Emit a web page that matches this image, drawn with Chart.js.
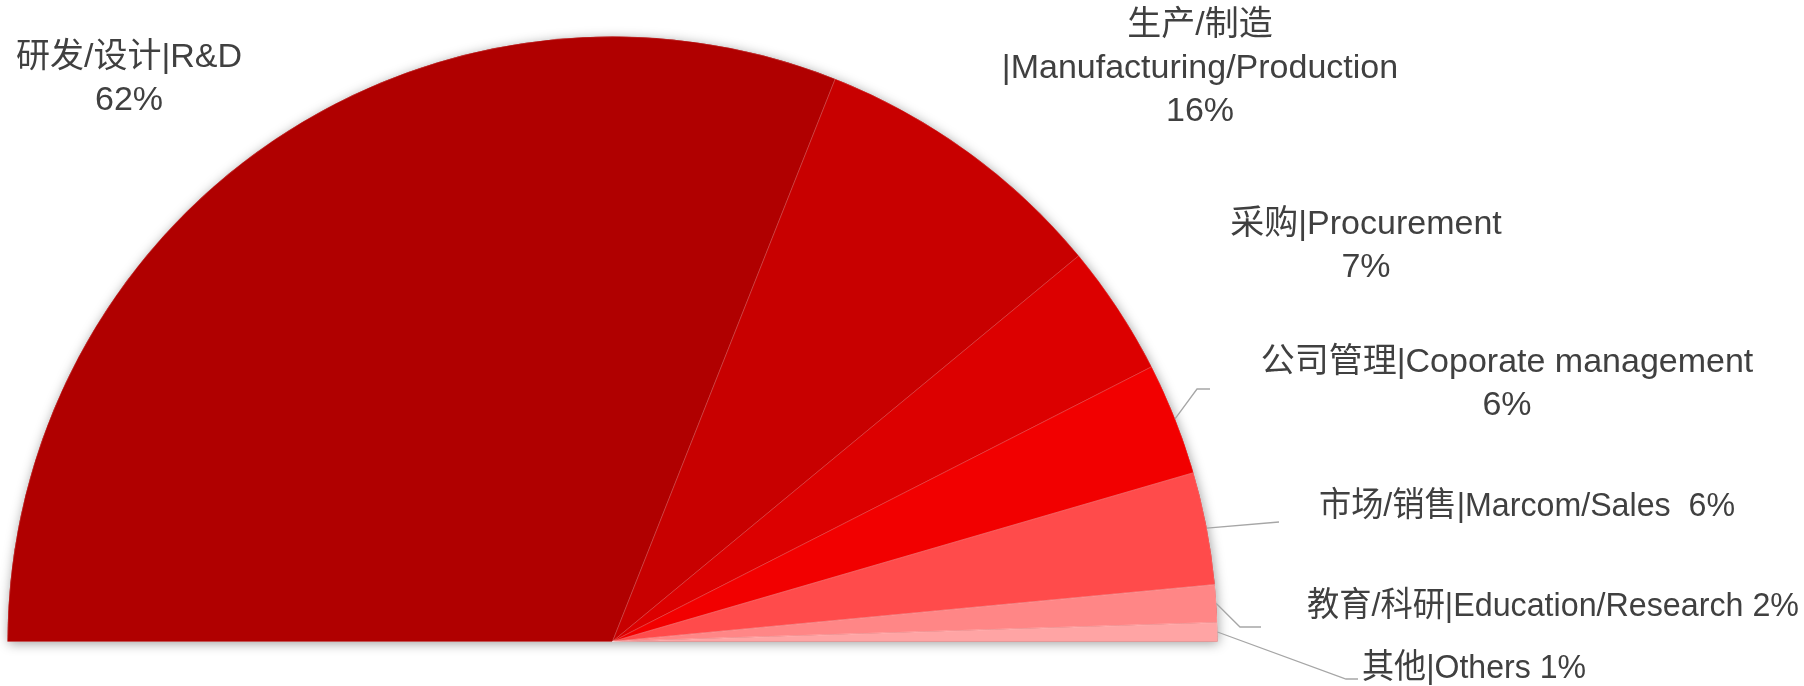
<!DOCTYPE html>
<html><head><meta charset="utf-8">
<script src="https://cdn.jsdelivr.net/npm/chart.js@4.4.1/dist/chart.umd.min.js"></script>
<style>html,body{margin:0;padding:0;background:#fff;}#wrap{width:1804px;height:686px;position:relative;}</style>
</head><body><div id="wrap"><canvas id="c"></canvas></div>
<script>
// ---- data ----
const categoriesZh = ['研发/设计', '生产/制造', '采购', '公司管理', '市场/销售', '教育/科研', '其他'];
const categoriesEn = ['R&D', 'Manufacturing/Production', 'Procurement', 'Coporate management', 'Marcom/Sales', 'Education/Research', 'Others'];
const shares = [62, 16, 7, 6, 6, 2, 1];
const pctLabels = ['62%', '16%', '7%', '6%', '6%', '2%', '1%'];

// ---- styles ----
const sliceColors = ['#B00000', '#C80000', '#DC0000', '#F20000', '#FF4B4B', '#FF8686', '#FFA4A4'];
const textColor = '#404040';
const leaderColor = '#A6A6A6';
const labelFont = '34px "Liberation Sans", Arial, "Noto Sans CJK SC", sans-serif';
const lineHeight = 43;

// ---- label layout (annotation positions) ----
const labelLayout = [
  {x: 129, y: 58, form: 'two'},
  {x: 1200, y: 26, form: 'three'},
  {x: 1366, y: 225, form: 'two'},
  {x: 1507, y: 363, form: 'two', leader: [[1197, 389], [1210, 389]]},
  {x: 1527, y: 507, form: 'inline2', maxW: 416, leader: [[1279, 522]]},
  {x: 1553, y: 607, form: 'inline', maxW: 492, leader: [[1240, 627], [1261, 627]]},
  {x: 1474, y: 669, form: 'inline', maxW: 224, leader: [[1346, 679], [1358, 679]]}
];

function linesFor(i) {
  const zh = categoriesZh[i], en = categoriesEn[i], p = pctLabels[i];
  switch (labelLayout[i].form) {
    case 'two': return [zh + '|' + en, p];
    case 'three': return [zh, '|' + en, p];
    case 'inline2': return [zh + '|' + en + '  ' + p];
    default: return [zh + '|' + en + ' ' + p];
  }
}

const shadowPlugin = {
  id: 'pieShadow',
  beforeDatasetsDraw(chart) {
    const meta = chart.getDatasetMeta(0);
    const first = meta.data[0], last = meta.data[meta.data.length - 1];
    const p = first.getProps(['x', 'y', 'outerRadius', 'startAngle'], true);
    const e = last.getProps(['endAngle'], true);
    const ctx = chart.ctx;
    ctx.save();
    ctx.shadowColor = 'rgba(0,0,0,0.38)';
    ctx.shadowBlur = 12;
    ctx.shadowOffsetX = 1;
    ctx.shadowOffsetY = 2;
    ctx.fillStyle = sliceColors[0];
    ctx.beginPath();
    ctx.moveTo(p.x, p.y);
    ctx.arc(p.x, p.y, p.outerRadius, p.startAngle, e.endAngle);
    ctx.closePath();
    ctx.fill();
    ctx.restore();
  }
};

const labelPlugin = {
  id: 'sliceLabels',
  afterDatasetsDraw(chart) {
    const meta = chart.getDatasetMeta(0);
    const ctx = chart.ctx;
    ctx.save();
    meta.data.forEach((arc, i) => {
      const lay = labelLayout[i];
      const a = arc.getProps(['x', 'y', 'outerRadius', 'startAngle', 'endAngle'], true);
      if (lay.leader) {
        const mid = (a.startAngle + a.endAngle) / 2;
        ctx.strokeStyle = leaderColor;
        ctx.lineWidth = 1.3;
        ctx.beginPath();
        ctx.moveTo(a.x + Math.cos(mid) * a.outerRadius, a.y + Math.sin(mid) * a.outerRadius);
        lay.leader.forEach(pt => ctx.lineTo(pt[0], pt[1]));
        ctx.stroke();
      }
      ctx.fillStyle = textColor;
      ctx.font = labelFont;
      ctx.textAlign = 'center';
      ctx.textBaseline = 'middle';
      linesFor(i).forEach((t, k) => {
        if (lay.maxW) ctx.fillText(t, lay.x, lay.y + k * lineHeight, lay.maxW);
        else ctx.fillText(t, lay.x, lay.y + k * lineHeight);
      });
    });
    ctx.restore();
  }
};

new Chart(document.getElementById('c'), {
  type: 'pie',
  data: {
    labels: categoriesZh.map((z, i) => z + '|' + categoriesEn[i]),
    datasets: [{
      data: shares,
      backgroundColor: sliceColors,
      borderColor: 'rgba(255,255,255,0.18)',
      borderWidth: 1
    }]
  },
  options: {
    responsive: true,
    maintainAspectRatio: false,
    animation: false,
    rotation: -90,
    circumference: 180,
    layout: {padding: {left: 7, top: 36, right: 586, bottom: 44}},
    plugins: {legend: {display: false}, tooltip: {enabled: false}}
  },
  plugins: [shadowPlugin, labelPlugin]
});
</script>
</body></html>
